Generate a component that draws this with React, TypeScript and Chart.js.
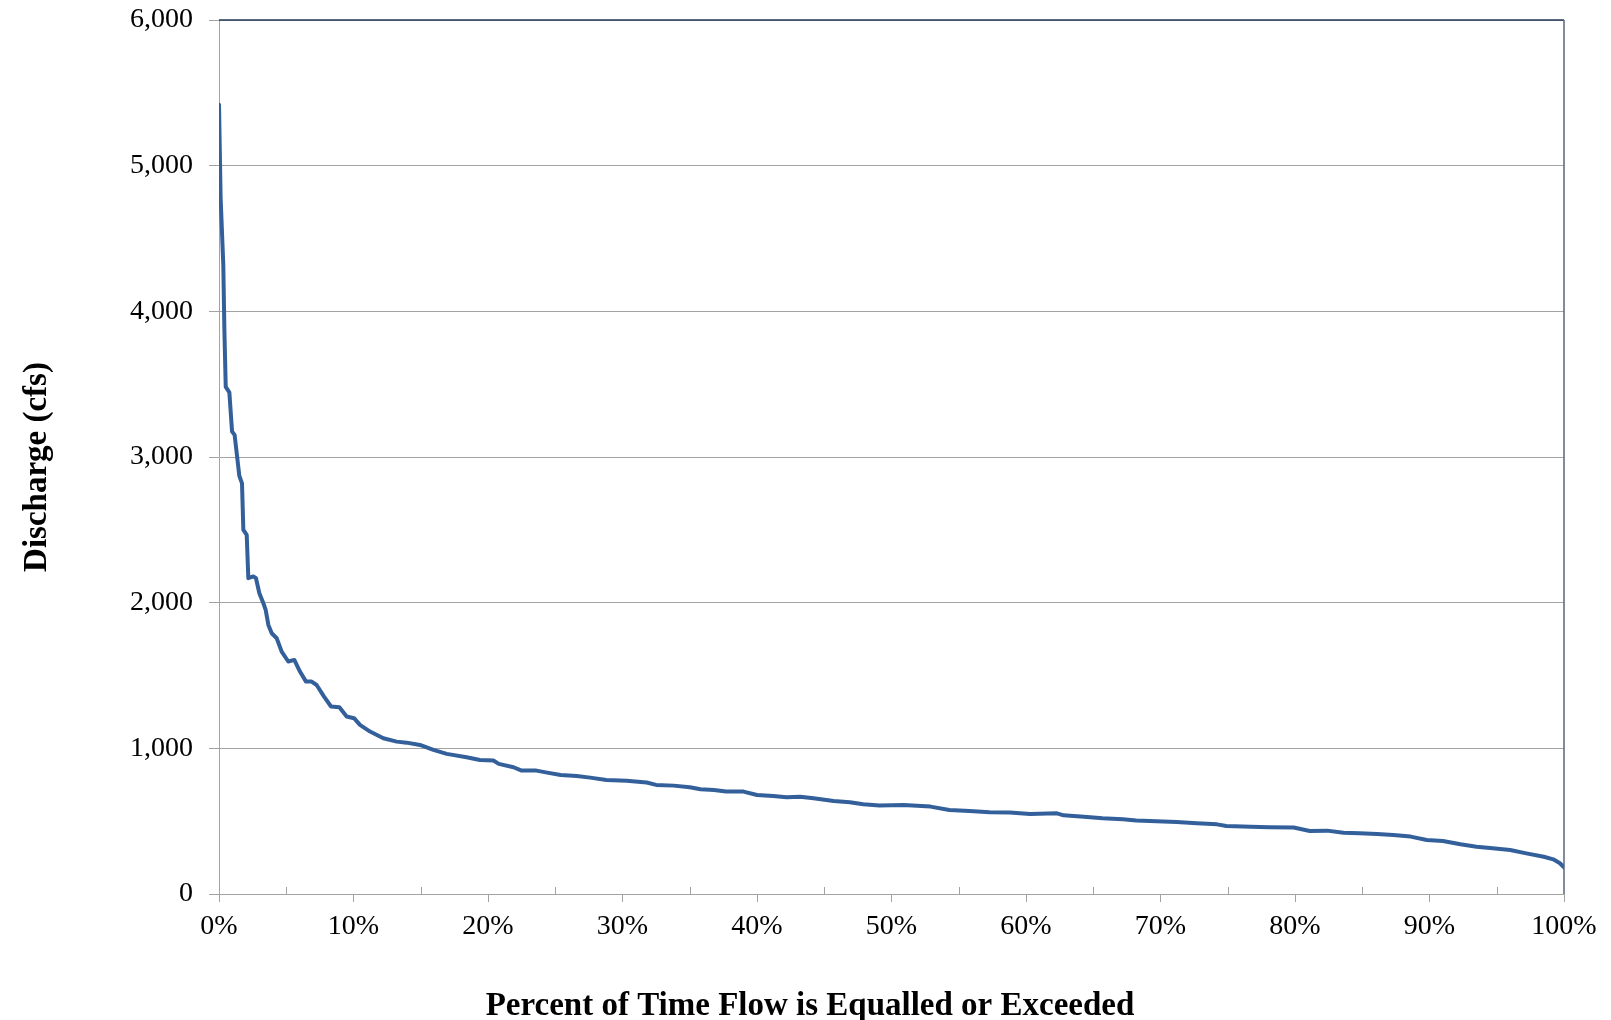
import React, { useEffect, useRef } from "react";
import { Chart, registerables } from "chart.js";
Chart.register(...registerables);

// Percent of time flow is equalled or exceeded
const exceedancePct = [
  0, 0.12, 0.32, 0.4, 0.5, 0.77, 0.97, 1.16, 1.51, 1.71, 1.81, 2.06, 2.18, 2.55, 2.75, 3.0, 3.3, 3.47, 3.67, 3.92,
  4.29, 4.66, 5.15, 5.6, 6.02, 6.47, 6.89, 7.26, 7.81, 8.33, 8.95, 9.49, 10.04, 10.48, 11.23, 12.22, 13.21, 13.95,
  14.94, 15.94, 16.93, 18.41, 19.4, 20.4, 20.8, 21.9, 22.5, 23.6, 24.4, 25.4, 26.6, 27.6, 28.8, 30.3, 31.8, 32.5,
  33.8, 35.0, 35.8, 36.8, 37.7, 39.0, 40.0, 41.2, 42.2, 43.2, 44.2, 45.7, 46.9, 47.9, 49.1, 50.9, 52.9, 54.3, 55.8,
  57.3, 58.8, 60.3, 62.3, 62.8, 64.3, 65.7, 67.2, 68.2, 69.7, 71.2, 72.7, 74.2, 74.9, 76.7, 78.1, 79.9, 81.1, 82.4,
  83.6, 84.8, 86.1, 87.3, 88.6, 89.8, 91.0, 92.3, 93.5, 94.7, 96.0, 97.2, 98.5, 99.2, 99.7, 100,
];

// Discharge (cfs)
const dischargeCfs = [
  5419, 4781, 4315, 3874, 3482, 3444, 3175, 3152, 2871, 2819, 2500, 2466, 2168, 2180, 2168, 2065, 1996, 1950, 1847, 1790,
  1756, 1664, 1596, 1607, 1527, 1458, 1458, 1435, 1355, 1287, 1282, 1218, 1207, 1161, 1115, 1069, 1046, 1039,
  1023, 989, 962, 939, 920, 916, 893, 870, 847, 847, 833, 817, 810, 799, 783, 778, 765, 749,
  744, 733, 719, 714, 703, 703, 680, 673, 664, 668, 657, 639, 630, 616, 607, 611, 600, 577, 570,
  561, 559, 549, 554, 540, 531, 520, 513, 504, 499, 494, 485, 478, 467, 462, 458, 456, 433, 435,
  421, 417, 412, 405, 394, 371, 364, 341, 325, 314, 302, 279, 256, 238, 211, 183,
];

const yTickValues = [0, 1000, 2000, 3000, 4000, 5000, 6000];
const xMajorTicks = [0, 10, 20, 30, 40, 50, 60, 70, 80, 90, 100];
const xMinorTicks = [5, 15, 25, 35, 45, 55, 65, 75, 85, 95];
const xTitle = "Percent of Time Flow is Equalled or Exceeded";
const yTitle = "Discharge (cfs)";

const SERIF = '"Liberation Serif", "Times New Roman", serif';
const GRID = "#a3a3a3";

export default function App() {
  const ref = useRef<HTMLCanvasElement>(null);

  useEffect(() => {
    document.body.style.margin = "0";
    const canvas = ref.current;
    if (!canvas) return;

    const decor = {
      id: "decor",
      afterDraw(chart: any) {
        const { ctx, chartArea: a, scales } = chart;
        const xs = scales.x;
        ctx.save();
        // minor inside ticks on x axis
        ctx.strokeStyle = GRID;
        ctx.lineWidth = 1;
        for (const v of xMinorTicks) {
          const x = Math.round(xs.getPixelForValue(v)) + 0.5;
          ctx.beginPath();
          ctx.moveTo(x, a.bottom);
          ctx.lineTo(x, a.bottom - 7);
          ctx.stroke();
        }
        // top and right plot borders
        ctx.lineWidth = 1.5;
        ctx.strokeStyle = "#24395a";
        ctx.beginPath();
        ctx.moveTo(a.left, a.top);
        ctx.lineTo(a.right, a.top);
        ctx.stroke();
        ctx.strokeStyle = "#56667d";
        ctx.beginPath();
        ctx.moveTo(a.right, a.top);
        ctx.lineTo(a.right, a.bottom);
        ctx.stroke();

        // axis titles
        ctx.fillStyle = "#000";
        ctx.font = `bold 33px ${SERIF}`;
        ctx.textAlign = "center";
        ctx.textBaseline = "alphabetic";
        ctx.fillText(xTitle, 810, 1015);
        ctx.translate(46, 467);
        ctx.rotate(-Math.PI / 2);
        ctx.fillText(yTitle, 0, 0);
        ctx.restore();
      },
    };

    const chart = new Chart(canvas, {
      type: "line",
      data: {
        datasets: [
          {
            data: exceedancePct.map((x, i) => ({ x, y: dischargeCfs[i] })),
            borderColor: "#33609a",
            borderWidth: 4,
            pointRadius: 0,
            tension: 0,
            borderJoinStyle: "round",
            borderCapStyle: "round",
            fill: false,
          },
        ],
      },
      options: {
        responsive: false,
        animation: false,
        layout: { padding: { top: 20, right: 47, left: 0, bottom: 0 } },
        plugins: { legend: { display: false }, tooltip: { enabled: false }, title: { display: false } },
        scales: {
          x: {
            type: "linear",
            min: 0,
            max: 100,
            afterBuildTicks: (s: any) => {
              s.ticks = xMajorTicks.map((v) => ({ value: v }));
            },
            ticks: {
              callback: (v: any) => `${v}%`,
              font: { family: SERIF, size: 28 },
              color: "#000",
              padding: 8,
              maxRotation: 0,
              autoSkip: false,
            },
            grid: { drawOnChartArea: false, tickLength: 8, color: GRID },
            border: { color: GRID },
            afterFit: (s: any) => {
              s.height = 126;
              s.paddingLeft = 0;
              s.paddingRight = 0;
            },
          },
          y: {
            type: "linear",
            min: 0,
            max: 6000,
            afterBuildTicks: (s: any) => {
              s.ticks = yTickValues.map((v) => ({ value: v }));
            },
            ticks: {
              callback: (v: any) => Number(v).toLocaleString("en-US"),
              font: { family: SERIF, size: 28 },
              color: "#000",
              padding: 16,
            },
            grid: { color: GRID, tickLength: 10 },
            border: { color: GRID },
            afterFit: (s: any) => {
              s.width = 219;
              s.paddingTop = 0;
              s.paddingBottom = 0;
            },
          },
        },
      },
      plugins: [decor],
    } as any);

    return () => chart.destroy();
  }, []);

  return (
    <div style={{ width: 1611, height: 1020, overflow: "hidden" }}>
      <canvas ref={ref} width={1611} height={1020} style={{ display: "block" }} />
    </div>
  );
}
